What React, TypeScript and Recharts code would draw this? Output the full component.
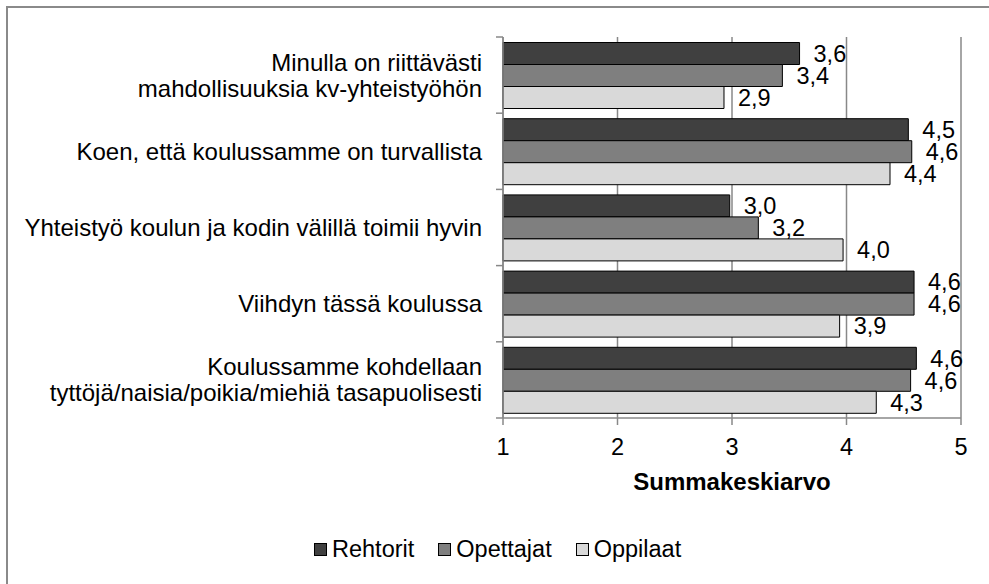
import { BarChart, Bar, XAxis, YAxis, CartesianGrid, Legend, LabelList } from 'recharts';

const kysymykset = [
    'Minulla on riittävästi\nmahdollisuuksia kv-yhteistyöhön',
    'Koen, että koulussamme on turvallista',
    'Yhteistyö koulun ja kodin välillä toimii hyvin',
    'Viihdyn tässä koulussa',
    'Koulussamme kohdellaan\ntyttöjä/naisia/poikia/miehiä tasapuolisesti',
];
const rehtorit = [3.59, 4.54, 2.98, 4.59, 4.61];
const opettajat = [3.44, 4.57, 3.23, 4.59, 4.56];
const oppilaat = [2.93, 4.38, 3.97, 3.94, 4.26];
const asteikko = [1, 2, 3, 4, 5];

const sarjat = [
    { key: 'Rehtorit', fill: '#404040' },
    { key: 'Opettajat', fill: '#7f7f7f' },
    { key: 'Oppilaat', fill: '#d9d9d9' },
];

const data = kysymykset.map((k, i) => ({
    kysymys: k,
    Rehtorit: rehtorit[i],
    Opettajat: opettajat[i],
    Oppilaat: oppilaat[i],
}));

const FONT = '"Liberation Sans", Arial, sans-serif';
const GRID = '#888888';

const muotoile = (v: any) => Number(v).toFixed(1).replace('.', ',');

const KysymysTick = (props: any) => {
    const { x, y, payload, index } = props;
    const rivit: string[] = String(payload.value).split('\n');
    const puoli = payload.offset || 38;
    const alku = -((rivit.length - 1) * 26) / 2;
    return (
        <g>
            <line x1={x + 14} x2={x + 21} y1={y - puoli} y2={y - puoli} stroke={GRID} strokeWidth={1.5} />
            {index === kysymykset.length - 1 && (
                <line x1={x + 14} x2={x + 21} y1={y + puoli} y2={y + puoli} stroke={GRID} strokeWidth={1.5} />
            )}
            <text x={x} y={y} textAnchor="end" fontSize={24} fill="#000" fontFamily={FONT}>
                {rivit.map((r, i) => (
                    <tspan key={i} x={x} y={y + alku + i * 26} dy="0.355em">{r}</tspan>
                ))}
            </text>
        </g>
    );
};

const Selite = () => (
    <div style={{ display: 'flex', alignItems: 'center', marginLeft: 314, fontFamily: FONT, fontSize: 23.5, color: '#000', height: 30 }}>
        {sarjat.map((s) => (
            <div key={s.key} style={{ display: 'flex', alignItems: 'center', marginRight: 24 }}>
                <span style={{ width: 11, height: 11, background: s.fill, border: '1px solid #000', marginRight: 5 }} />
                <span>{s.key}</span>
            </div>
        ))}
    </div>
);

export default function App() {
    return (
        <div style={{ position: 'absolute', left: 0, top: 0, width: 989, height: 584, overflow: 'hidden', background: '#fff' }}>
            <div style={{ position: 'absolute', left: 6, top: 6, width: 1000, height: 600, border: '2px solid #8a8a8a' }} />
            <div style={{ position: 'absolute', left: 0, top: 0 }}>
                <BarChart
                    width={989}
                    height={584}
                    data={data}
                    layout="vertical"
                    margin={{ top: 37, right: 28, left: 0, bottom: 20 }}
                    barCategoryGap={5.5}
                    barGap={0}
                >
                    <CartesianGrid horizontal={false} stroke={GRID} strokeWidth={1.5} />
                    <XAxis
                        type="number"
                        domain={[1, 5]}
                        ticks={asteikko}
                        height={116}
                        tickSize={7}
                        tickMargin={13}
                        axisLine={{ stroke: GRID, strokeWidth: 1.5 }}
                        tickLine={{ stroke: GRID, strokeWidth: 1.5 }}
                        tick={{ fontSize: 23.5, fill: '#000', fontFamily: FONT }}
                        label={{ value: 'Summakeskiarvo', position: 'insideTop', offset: 55, fontSize: 24, fontWeight: 'bold', fill: '#000', fontFamily: FONT }}
                    />
                    <YAxis
                        type="category"
                        dataKey="kysymys"
                        width={503}
                        tickSize={7}
                        tickMargin={14}
                        tickLine={false}
                        axisLine={{ stroke: GRID, strokeWidth: 1.5 }}
                        tick={<KysymysTick />}
                        interval={0}
                    />
                    <Legend verticalAlign="bottom" align="left" content={<Selite />} />
                    {sarjat.map((s) => (
                        <Bar key={s.key} dataKey={s.key} fill={s.fill} stroke="#000" strokeWidth={1} isAnimationActive={false}>
                            <LabelList
                                dataKey={s.key}
                                position="right"
                                offset={14}
                                formatter={muotoile}
                                fontSize={23.5}
                                fill="#000"
                                fontFamily={FONT}
                            />
                        </Bar>
                    ))}
                </BarChart>
            </div>
        </div>
    );
}
